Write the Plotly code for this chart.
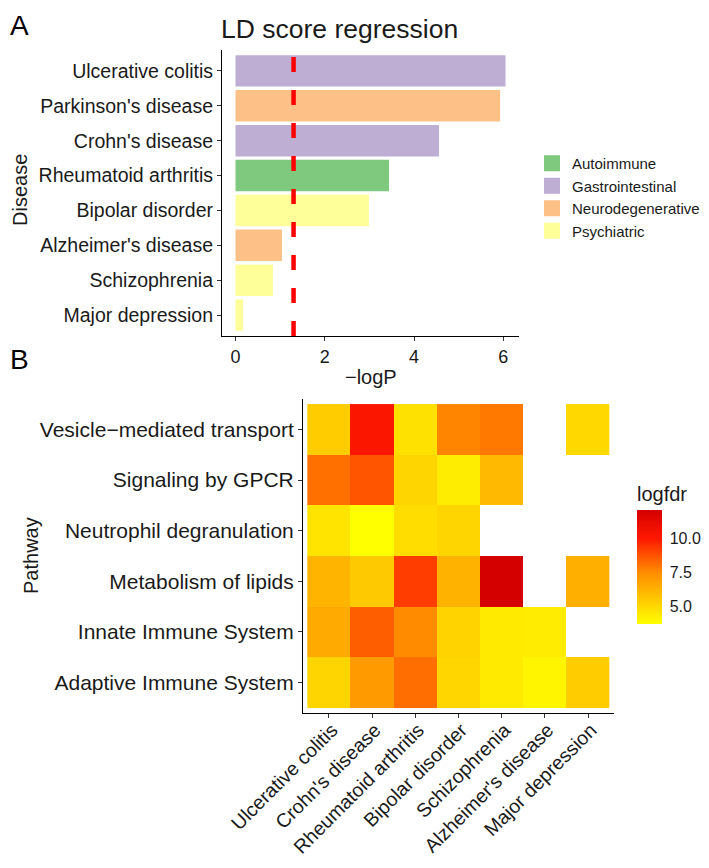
import plotly.graph_objects as go
import numpy as np

# page has an 8px body margin; figure is sized/offset to fill the 709x868 window
PAGE_W, PAGE_H, OFF = 709, 868, 8
W, H = PAGE_W - OFF, PAGE_H - 2 * OFF

# ---------------- Panel A data ----------------
diseases_a = ["Ulcerative colitis", "Parkinson's disease", "Crohn's disease",
              "Rheumatoid arthritis", "Bipolar disorder", "Alzheimer's disease",
              "Schizophrenia", "Major depression"]
neglogp = [6.05, 5.93, 4.56, 3.44, 2.99, 1.04, 0.84, 0.17]
disease_group = ["Gastrointestinal", "Neurodegenerative", "Gastrointestinal",
                 "Autoimmune", "Psychiatric", "Neurodegenerative",
                 "Psychiatric", "Psychiatric"]
group_names = ["Autoimmune", "Gastrointestinal", "Neurodegenerative", "Psychiatric"]
group_colors = ["#7FC97F", "#BEAED4", "#FDC086", "#FFFF99"]
threshold_p = 0.05
x_ticks_a = [0, 2, 4, 6]

# ---------------- Panel B data ----------------
pathways = ["Vesicle\u2212mediated transport", "Signaling by GPCR",
            "Neutrophil degranulation", "Metabolism of lipids",
            "Innate Immune System", "Adaptive Immune System"]
diseases_b = ["Ulcerative colitis", "Crohn's disease", "Rheumatoid arthritis",
              "Bipolar disorder", "Schizophrenia", "Alzheimer's disease",
              "Major depression"]
logfdr_vesicle = [5.4, 10.2, 4.7, 7.65, 7.9, None, 5.0]
logfdr_gpcr = [8.1, 8.7, 5.1, 4.3, 6.0, None, None]
logfdr_neutrophil = [4.6, 3.7, 4.85, 5.1, None, None, None]
logfdr_lipids = [6.2, 5.5, 9.2, 6.25, 12.1, None, 6.35]
logfdr_innate = [6.5, 8.5, 7.5, 5.15, 4.4, 4.35, None]
logfdr_adaptive = [5.1, 7.05, 8.15, 5.05, 4.4, 4.05, 5.4]
cbar_ticks = [5.0, 7.5, 10.0]
cbar_ticktext = ["5.0", "7.5", "10.0"]

FONT = "Liberation Sans, Arial, Helvetica, sans-serif"
TXT = "#1a1a1a"


def px_x(p):
    return (p - OFF) / W


def px_y(p):
    return 1 - (p - OFF) / H


fig = go.Figure()

color_of = dict(zip(group_names, group_colors))
for g in group_names:
    ys = [d for d, gg in zip(diseases_a, disease_group) if gg == g]
    xs = [v for v, gg in zip(neglogp, disease_group) if gg == g]
    fig.add_trace(go.Bar(x=xs, y=ys, orientation="h", width=0.9,
                         marker=dict(color=color_of[g], line=dict(width=0)),
                         name=g, legendgroup=g, showlegend=False,
                         xaxis="x", yaxis="y"))
    # legend key (larger square than the bar legend icon)
    fig.add_trace(go.Scatter(x=[None], y=[None], mode="markers",
                             marker=dict(symbol="square", size=22, color=color_of[g]),
                             name=g, legendgroup=g, showlegend=True,
                             xaxis="x", yaxis="y"))

# significance threshold line
fig.add_shape(type="line", xref="x", yref="y domain",
              x0=-np.log10(threshold_p), x1=-np.log10(threshold_p), y0=0, y1=1,
              line=dict(color="#FF0000", width=4.5, dash="15px,18px"))

# heatmap
z = [logfdr_adaptive, logfdr_innate, logfdr_lipids, logfdr_neutrophil,
     logfdr_gpcr, logfdr_vesicle]
y_hm = pathways[::-1]
flat = [v for row in z for v in row if v is not None]
zmin, zmax = min(flat), max(flat)


def frac(v):
    return (v - zmin) / (zmax - zmin)


colorscale = [[0.0, "#FFFF00"], [frac(5.0), "#FFD800"], [frac(7.5), "#FF8C00"],
              [frac(10.0), "#FF1800"], [1.0, "#D40000"]]

fig.add_trace(go.Heatmap(
    z=z, x=diseases_b, y=y_hm, xaxis="x2", yaxis="y2",
    colorscale=colorscale, zmin=zmin, zmax=zmax, hoverongaps=False,
    colorbar=dict(
        title=dict(text="logfdr", side="top", font=dict(size=20, family=FONT, color=TXT)),
        x=px_x(637), xanchor="left", xpad=0,
        y=px_y(483), yanchor="top", ypad=0,
        len=141, lenmode="pixels", thickness=25, thicknessmode="pixels",
        outlinewidth=0,
        tickvals=cbar_ticks, ticktext=cbar_ticktext,
        ticks="outside", ticklen=5, tickcolor="white", tickwidth=1,
        tickfont=dict(size=16, family=FONT, color=TXT),
    ),
))

axis_common = dict(showline=True, linecolor="black", linewidth=1.1,
                   ticks="outside", ticklen=4, tickcolor="#333333", tickwidth=1.1,
                   showgrid=False, zeroline=False, automargin=False)

xmax = max(neglogp)
fig.update_layout(
    width=W, height=H,
    margin=dict(l=0, r=0, t=0, b=0),
    paper_bgcolor="white", plot_bgcolor="white",
    barmode="overlay",
    font=dict(family=FONT, color=TXT),
    showlegend=True,
    legend=dict(x=px_x(532), xanchor="left", y=px_y(147), yanchor="top",
                font=dict(size=15, family=FONT, color=TXT),
                bgcolor="rgba(0,0,0,0)", tracegroupgap=0, itemsizing="trace"),
    title=dict(text="LD score regression", x=px_x(221), xanchor="left", xref="paper",
               y=px_y(29), yanchor="middle", yref="paper",
               font=dict(size=26.5, family=FONT, color=TXT)),
    xaxis=dict(domain=[px_x(222), px_x(519)], anchor="y",
               range=[-0.05 * xmax, 1.05 * xmax], tickvals=x_ticks_a,
               tickfont=dict(size=18, family=FONT, color=TXT), **axis_common),
    yaxis=dict(domain=[px_y(336), px_y(50)], anchor="x", type="category",
               categoryorder="array", categoryarray=diseases_a[::-1],
               range=[-0.6, len(diseases_a) - 0.4],
               tickfont=dict(size=19.5, family=FONT, color=TXT), **axis_common),
    xaxis2=dict(domain=[px_x(303), px_x(614)], anchor="y2", type="category",
                categoryorder="array", categoryarray=diseases_b,
                range=[-0.6, len(diseases_b) - 0.4], tickangle=-45,
                ticklabelstandoff=-7, ticklabelshift=3,
                tickfont=dict(size=19.5, family=FONT, color=TXT), **axis_common),
    yaxis2=dict(domain=[px_y(713), px_y(399)], anchor="x2", type="category",
                categoryorder="array", categoryarray=y_hm,
                range=[-0.6, len(pathways) - 0.4],
                tickfont=dict(size=21, family=FONT, color=TXT), **axis_common),
    annotations=[
        dict(text="A", x=px_x(8), y=px_y(8), xref="paper", yref="paper",
             xanchor="left", yanchor="top", showarrow=False,
             font=dict(size=28, family=FONT, color="black")),
        dict(text="B", x=px_x(8), y=px_y(342), xref="paper", yref="paper",
             xanchor="left", yanchor="top", showarrow=False,
             font=dict(size=28, family=FONT, color="black")),
        dict(text="Disease", x=px_x(20), y=px_y(190), xref="paper", yref="paper",
             textangle=-90, showarrow=False, xanchor="center", yanchor="middle",
             font=dict(size=20, family=FONT, color=TXT)),
        dict(text="\u2212logP", x=px_x(371), y=px_y(377), xref="paper", yref="paper",
             showarrow=False, xanchor="center", yanchor="middle",
             font=dict(size=20, family=FONT, color=TXT)),
        dict(text="Pathway", x=px_x(31), y=px_y(556), xref="paper", yref="paper",
             textangle=-90, showarrow=False, xanchor="center", yanchor="middle",
             font=dict(size=20, family=FONT, color=TXT)),
    ],
)

fig.write_html("out.html")
